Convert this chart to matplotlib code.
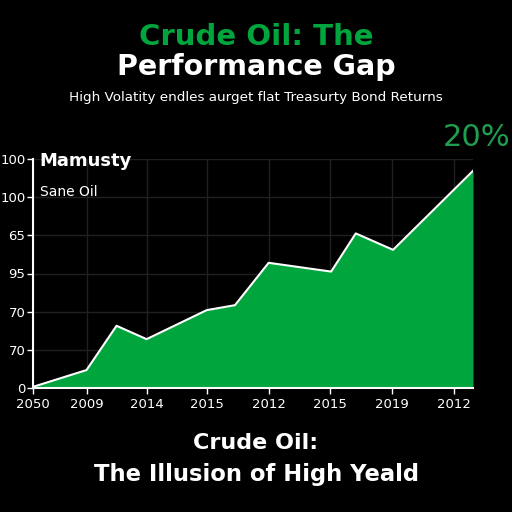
import numpy as np
import matplotlib.pyplot as plt

plt.rcParams['font.family'] = ['DejaVu Sans']

# x positions (tick units) and values (axis units)
x_vals = [0.0, 0.89, 1.39, 1.89, 2.89, 3.36, 3.92, 4.96, 5.37, 5.99, 7.32]
y_vals = [0.03, 0.47, 1.63, 1.28, 2.04, 2.17, 3.28, 3.05, 4.05, 3.62, 5.69]

x_tick_pos = [0.0, 0.90, 1.90, 2.89, 3.92, 4.94, 5.97, 7.0]
x_tick_labels = ['2050', '2009', '2014', '2015', '2012', '2015', '2019', '2012']
y_tick_pos = [0, 1, 2, 3, 4, 5, 6]
y_tick_labels = ['0', '70', '70', '95', '65', '100', '100']

green = '#00a63d'

fig = plt.figure(figsize=(5.12, 5.12), dpi=100, facecolor='black')
ax = fig.add_axes([33/512, 124/512, 440/512, 229/512])
ax.set_facecolor('black')

# area + white outline
ax.fill_between(x_vals, y_vals, 0, color=green, linewidth=0, zorder=2)
ax.plot(x_vals, y_vals, color='white', lw=1.5, zorder=3)

ax.set_xlim(0, 7.32)
ax.set_ylim(0, 6)
ax.set_xticks(x_tick_pos)
ax.set_xticklabels(x_tick_labels)
ax.set_yticks(y_tick_pos)
ax.set_yticklabels(y_tick_labels)
ax.grid(True, color='#202020', lw=1, zorder=0)

for s in ['top', 'right']:
    ax.spines[s].set_visible(False)
for s in ['left', 'bottom']:
    ax.spines[s].set_color('white')
    ax.spines[s].set_linewidth(1.5)
    ax.spines[s].set_zorder(4)
ax.tick_params(colors='white', length=4, width=1)
ax.tick_params(axis='x', pad=3, labelsize=9.5)
ax.tick_params(axis='y', pad=1.5, labelsize=9.5)

ax.text(0.015, 1.03, 'Mamusty', transform=ax.transAxes, color='white',
        fontsize=13, fontweight='bold', va='top', ha='left')
ax.text(0.015, 0.885, 'Sane Oil', transform=ax.transAxes, color='white',
        fontsize=10, va='top', ha='left')

fig.text(477/512, 1 - 138/512, '20%', color='#1f9e4f', fontsize=22,
         ha='center', va='center')

fig.text(0.5, 1 - 37/512, 'Crude Oil: The', color=green, fontsize=21,
         fontweight='bold', ha='center', va='center')
fig.text(0.5, 1 - 67/512, 'Performance Gap', color='white', fontsize=20.5,
         fontweight='bold', ha='center', va='center')
fig.text(0.5, 1 - 97/512, 'High Volatity endles aurget flat Treasurty Bond Returns',
         color='white', fontsize=9.7, ha='center', va='center')

fig.text(0.5, 1 - 443/512, 'Crude Oil:', color='white', fontsize=16,
         fontweight='bold', ha='center', va='center')
fig.text(0.5, 1 - 474/512, 'The Illusion of High Yeald', color='white', fontsize=16.3,
         fontweight='bold', ha='center', va='center')

fig.savefig('out.png', dpi=100, facecolor='black')
